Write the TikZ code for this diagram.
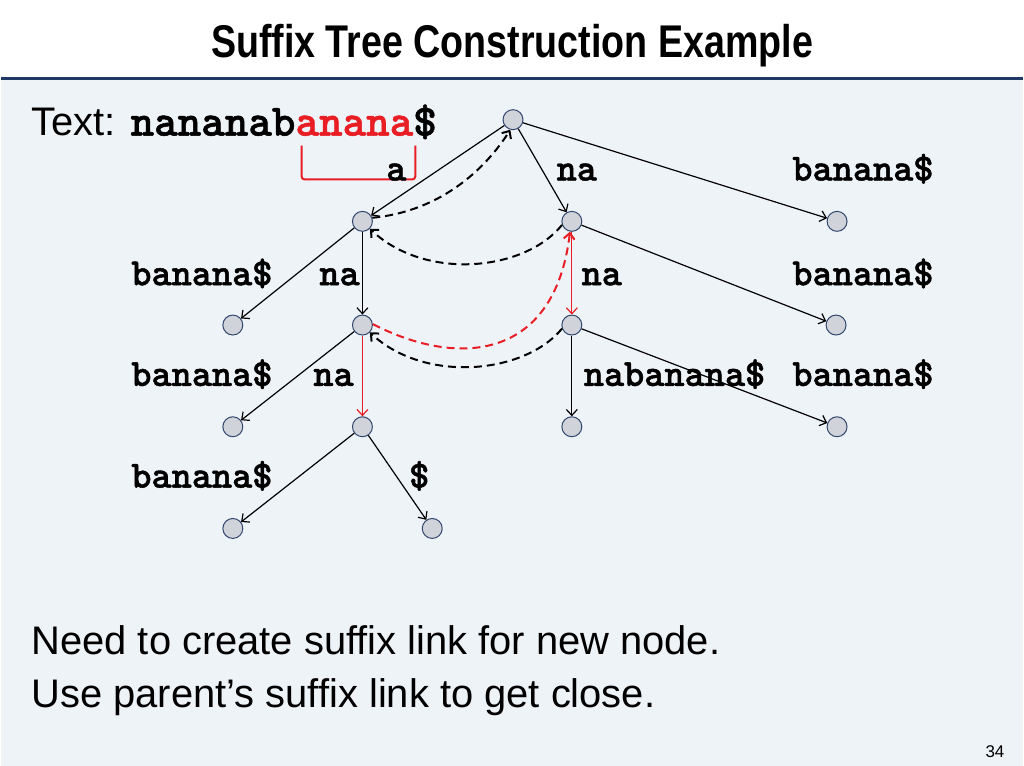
\documentclass[tikz,border=0pt]{standalone}
\usepackage{fontspec}
\setmainfont{Liberation Sans}
\newfontfamily\titlefont[FakeStretch=0.82]{Liberation Sans}
\newfontfamily\codefont[FakeBold=1.2]{lmmonolt10-bold.otf}
\usetikzlibrary{arrows.meta}
\definecolor{bgblue}{RGB}{238,243,248}
\definecolor{navy}{RGB}{31,56,100}
\definecolor{nodefill}{RGB}{208,212,218}
\definecolor{nodedraw}{RGB}{50,70,110}
\definecolor{hired}{RGB}{232,30,36}
\begin{document}
\begin{tikzpicture}[x=1pt,y=-1pt,
  tnode/.style={circle,draw=nodedraw,fill=nodefill,line width=1pt,minimum size=20pt,inner sep=0pt},
  edge/.style={line width=1.2pt,-{Straight Barb[length=6pt,width=11pt]}},
  lbl/.style={font={\fontsize{38.5pt}{40pt}\codefont},anchor=base,inner sep=0pt},
  link/.style={dash pattern=on 8pt off 5pt,line width=2pt,-{Straight Barb[length=6pt,width=11pt]}},
  bodytext/.style={font={\fontsize{40pt}{44pt}\selectfont},anchor=base west,inner sep=0pt},
]
% background
\fill[white] (0,0) rectangle (1024,768);
\fill[bgblue] (0,79) rectangle (1024,768);
\draw[navy,line width=3pt] (0,79) -- (1024,79);

% title
\node[font={\fontsize{46pt}{50pt}\titlefont\bfseries},anchor=base,inner sep=0pt] (title) at (512,58) {Suffix Tree Construction Example};

% text line
\node[bodytext] (txt) at (30,136) {Text: {\fontsize{45pt}{48pt}\codefont nananab\textcolor{hired}{anana}\$}};
\draw[hired,line width=2pt,rounded corners=3pt] (301,146) -- (301,180) -- (415,180) -- (415,146);

% tree nodes
\node[tnode] (root) at (513,120) {};
\node[tnode] (A) at (362,222) {};
\node[tnode] (B) at (572,222) {};
\node[tnode] (C) at (838,222) {};
\node[tnode] (D) at (232,326) {};
\node[tnode] (E) at (362,326) {};
\node[tnode] (F) at (572,326) {};
\node[tnode] (G) at (837,326) {};
\node[tnode] (H) at (232,428) {};
\node[tnode] (I) at (362,428) {};
\node[tnode] (J) at (572,428) {};
\node[tnode] (K) at (838,428) {};
\node[tnode] (L) at (232,530) {};
\node[tnode] (M) at (432,530) {};

% edges
\draw[edge] (root) -- (A);
\draw[edge] (root) -- (B);
\draw[edge] (root) -- (C);
\draw[edge] (A) -- (D);
\draw[edge] (A) -- (E);
\draw[edge,hired] (B) -- (F);
\draw[edge] (B) -- (G);
\draw[edge] (E) -- (H);
\draw[edge,hired] (E) -- (I);
\draw[edge] (F) -- (J);
\draw[edge] (F) -- (K);
\draw[edge] (I) -- (L);
\draw[edge] (I) -- (M);

% suffix links
\draw[link] (A.20) .. controls (440,212) and (485,170) .. (root.-105);
\draw[link] (B.200) .. controls (525,272) and (425,282) .. (A.-45);
\draw[link] (F.200) .. controls (525,375) and (425,385) .. (E.-45);
\draw[link,hired] (E.5) .. controls (460,370) and (555,360) .. (B.-100);

% edge labels
\node[lbl] (la) at (396,181) {a};
\node[lbl] (lna1) at (577,181) {na};
\node[lbl] (lb1) at (864,181) {banana\$};
\node[lbl] (lb2) at (201,286) {banana\$};
\node[lbl] (lna2) at (339,286) {na};
\node[lbl] (lna3) at (602,286) {na};
\node[lbl] (lb3) at (864,286) {banana\$};
\node[lbl] (lb4) at (201,387) {banana\$};
\node[lbl] (lna4) at (333,387) {na};
\node[lbl] (lnab) at (675,387) {nabanana\$};
\node[lbl] (lb5) at (864,387) {banana\$};
\node[lbl] (lb6) at (201,489) {banana\$};
\node[lbl] (ld) at (419,489) {\$};

% body text
\node[bodytext] (body1) at (30,656) {Need to create suffix link for new node.};
\node[bodytext] (body2) at (30,710) {Use parent’s suffix link to get close.};

% page number
\node[font={\fontsize{17pt}{19pt}\selectfont},anchor=base east,inner sep=0pt] (pg) at (1006,760) {34};
\end{tikzpicture}
\end{document}
